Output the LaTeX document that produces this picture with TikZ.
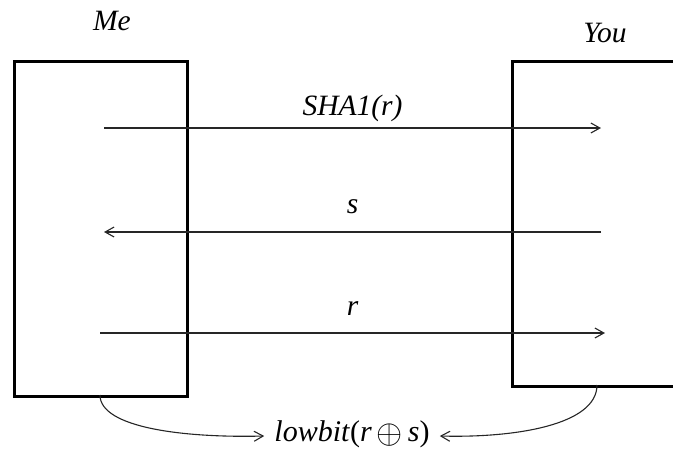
\documentclass[tikz,border=0pt]{standalone}
\usepackage{fontspec}
\usepackage{graphicx}
\setmainfont{Liberation Serif}
\usetikzlibrary{arrows.meta}
\begin{document}
\begin{tikzpicture}[x=1pt,y=-1pt,
  party/.style={draw=black,line width=2.6pt,minimum width=#1,inner sep=0pt,anchor=north west},
  msg/.style={draw=black!85,line width=1.1pt,-{Straight Barb[length=9pt,width=10pt,line width=1.1pt]}},
  lbl/.style={font=\fontsize{29.5}{31}\selectfont\itshape,inner sep=0pt},
  curvearrow/.style={draw=black!85,line width=1.1pt,-{Straight Barb[length=9pt,width=10pt,line width=1.1pt]}}]
\useasboundingbox (0,0) rectangle (673,448);
% parties
\node[party=173pt,minimum height=335pt] (me) at (13,60) {};
\node[party=190pt,minimum height=325pt] (you) at (511,60) {};
\node[lbl] (meL) at (112,21) {Me};
\node[lbl] (youL) at (605,33) {You};
% message end points
\coordinate (a1) at (104,128); \coordinate (b1) at (601,128);
\coordinate (a2) at (601,232); \coordinate (b2) at (104,232);
\coordinate (a3) at (100,333); \coordinate (b3) at (605,333);
\draw[msg] (a1) -- node[lbl,above=6pt] (m1) {SHA1(r)} (b1);
\draw[msg] (a2) -- node[lbl,above=18pt] (m2) {s} (b2);
\draw[msg] (a3) -- node[lbl,above=17pt] (m3) {r} (b3);
% result
\node[font=\fontsize{30}{32}\selectfont,inner sep=0pt] (res) at (352,434) {\textit{lowbit}(\textit{r}\hspace{5pt}\raisebox{-2pt}{\scalebox{1.35}{$\oplus$}}\hspace{5pt}\textit{s})};
\coordinate (c1) at (100,395);
\coordinate (c2) at (597,385);
\draw[curvearrow] (c1) .. controls (100,428) and (185,438) .. ([xshift=-10pt,yshift=-2pt]res.west);
\draw[curvearrow] (c2) .. controls (597,425) and (515,438) .. ([xshift=10pt,yshift=-2pt]res.east);
\end{tikzpicture}
\end{document}
